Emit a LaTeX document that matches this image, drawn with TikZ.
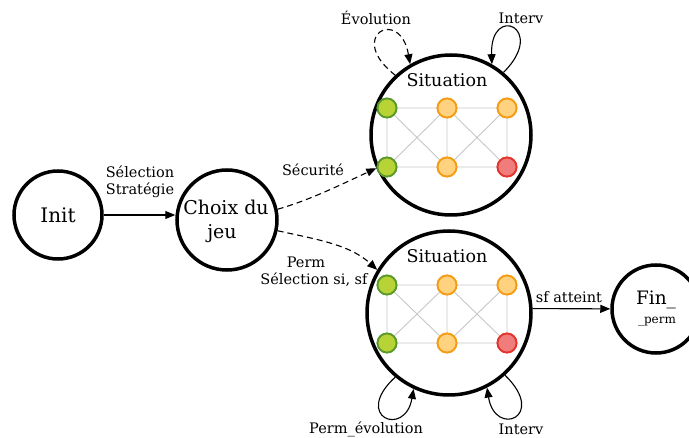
\documentclass[tikz,border=0pt]{standalone}
\usepackage{fontspec}
\setmainfont{DejaVu Serif}
\usetikzlibrary{arrows.meta}
\definecolor{gfill}{HTML}{B7D335}
\definecolor{gdraw}{HTML}{5A9A2A}
\definecolor{ofill}{HTML}{FFD27F}
\definecolor{odraw}{HTML}{F59B14}
\definecolor{rfill}{HTML}{F07C7C}
\definecolor{rdraw}{HTML}{E3342B}
\begin{document}
\begin{tikzpicture}[x=1pt,y=-1pt,
  state/.style={circle,draw,line width=3.5pt,inner sep=0pt},
  dot/.style={circle,line width=1.8pt,minimum size=19pt,inner sep=0pt},
  gdot/.style={dot,draw=gdraw,fill=gfill},
  odot/.style={dot,draw=odraw,fill=ofill},
  rdot/.style={dot,draw=rdraw,fill=rfill},
  edge/.style={draw=black!22,line width=0.9pt},
  arr/.style={-{Triangle[length=10pt,width=8pt]},line width=1.1pt},
  dsh/.style={dash pattern=on 6pt off 4pt},
  lbl/.style={font=\fontsize{14.5}{17}\selectfont,inner sep=1pt},
  sit/.style={font=\fontsize{17.5}{20}\selectfont,inner sep=1pt},
  big/.style={font=\fontsize{19}{22}\selectfont,inner sep=1pt}
]
\useasboundingbox (0,0) rectangle (689,438);

% main states
\node[state,minimum size=88pt] (init) at (58,215) {};
\node[font=\fontsize{20}{23}\selectfont] (initt) at (58,215) {Init};
\node[state,minimum size=100pt] (choix) at (227,220) {};
\node[big] (choixt) at (226,207) {Choix du};
\node[big] (choixu) at (222,234) {jeu};
\node[state,minimum size=160pt] (s1) at (451,135) {};
\node[state,minimum size=164pt] (s2) at (449,313) {};
\node[state,minimum size=88pt] (fin) at (656,309) {};
\node[font=\fontsize{18.5}{21}\selectfont] (fint) at (656,300) {Fin\_};
\node[font=\fontsize{12}{14}\selectfont] (finp) at (657,322) {\_perm};

\node[sit] (s1t) at (447,80) {Situation};
\node[sit] (s2t) at (447,256) {Situation};

% graph in situation 1
\node[gdot] (a1) at (387,108) {};
\node[odot] (a2) at (447,108) {};
\node[odot] (a3) at (507,108) {};
\node[gdot] (a4) at (387,167) {};
\node[odot] (a5) at (447,167) {};
\node[rdot] (a6) at (507,167) {};
% graph in situation 2
\node[gdot] (b1) at (387,285) {};
\node[odot] (b2) at (447,285) {};
\node[odot] (b3) at (507,285) {};
\node[gdot] (b4) at (387,343) {};
\node[odot] (b5) at (447,343) {};
\node[rdot] (b6) at (507,343) {};

\foreach \p in {a,b}{
  \draw[edge] (\p1) -- (\p2) (\p2) -- (\p3) (\p4) -- (\p5) (\p5) -- (\p6)
    (\p1) -- (\p4) (\p2) -- (\p5) (\p3) -- (\p6)
    (\p1) -- (\p5) (\p2) -- (\p4) (\p2) -- (\p6) (\p3) -- (\p5);
}
% redraw dots on top
\node[gdot] at (a1) {};\node[odot] at (a2) {};\node[odot] at (a3) {};
\node[gdot] at (a4) {};\node[odot] at (a5) {};\node[rdot] at (a6) {};
\node[gdot] at (b1) {};\node[odot] at (b2) {};\node[odot] at (b3) {};
\node[gdot] at (b4) {};\node[odot] at (b5) {};\node[rdot] at (b6) {};

% connectors
\draw[arr] (init) -- (choix.west |- init);
\node[lbl] (l1) at (140,172) {Sélection};
\node[lbl] (l2) at (140,190) {Stratégie};

\draw[arr,dsh] (choix.12) .. controls (310,200) and (340,185) .. (s1.204);
\node[lbl] (l3) at (313,170) {Sécurité};

\draw[arr,dsh] (choix.-12) .. controls (320,240) and (350,245) .. (s2.149);
\node[lbl] (l4) at (306,262) {Perm};
\node[lbl] (l5) at (314,280) {Sélection si, sf};

\draw[arr] (s2.3) -- (fin);
\node[lbl] (l6) at (569,297) {sf atteint};

% loops
\draw[arr,dsh] (s1.133) .. controls (345,36) and (400,6) .. (s1.120);
\node[lbl] (l7) at (376,18) {Évolution};
\draw[arr] (s1.50) .. controls (548,28) and (490,3) .. (s1.60);
\node[lbl] (l8) at (521,18) {Interv};

\draw[arr] (s2.230) .. controls (352,417) and (405,438) .. (s2.245);
\node[lbl] (l9) at (366,429) {Perm\_évolution};
\draw[arr] (s2.312) .. controls (548,417) and (495,438) .. (s2.297);
\node[lbl] (l10) at (521,429) {Interv};
\end{tikzpicture}
\end{document}
